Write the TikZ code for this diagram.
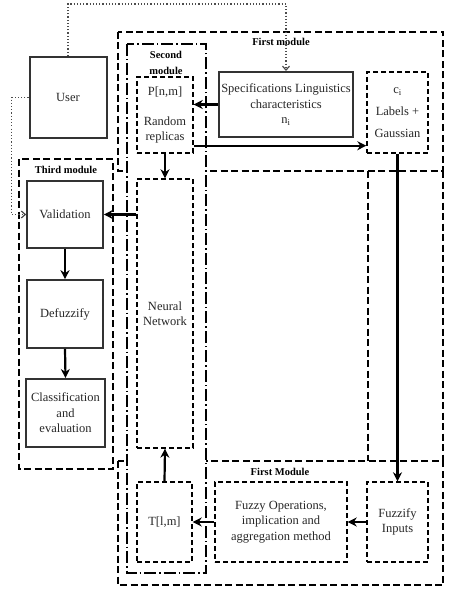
\documentclass[tikz,border=0pt]{standalone}
\usepackage{fontspec}
\setmainfont{Liberation Serif}
\usetikzlibrary{arrows.meta}

\tikzset{
    txt/.style={font=\fontsize{12.5}{15.5}\selectfont, align=center, text=black!85},
    lbl/.style={font=\fontsize{10.5}{16}\selectfont\bfseries, align=center},
    solidbox/.style={txt, draw=black!80, line width=2pt, inner sep=1pt},
    dbox/.style={txt, draw, line width=1.4pt, dash pattern=on 5pt off 3pt, inner sep=1pt},
    modbox/.style={draw, line width=2pt, dash pattern=on 7pt off 3.5pt},
    arr/.style={-{Stealth[length=9pt,width=9pt]}, line width=2.2pt},
    dotarr/.style={-{Straight Barb[length=4pt,width=7pt]}, dotted, line width=1.2pt, black!70}
}

\begin{document}
\begin{tikzpicture}[x=1pt,y=-1pt]
    \useasboundingbox (0,0) rectangle (449,591);

    % Module frames
    \draw[modbox] (118,32) rectangle (443,171);
    \draw[modbox] (443,171) -- (443,461);
    \draw[modbox] (368,171) -- (368,461);
    \draw[modbox] (118,461) rectangle (443,585);
    \draw[modbox] (19,159) rectangle (113,469);
    \draw[fill=white, line width=2pt, dash pattern=on 12pt off 3pt on 1.5pt off 3pt] (127,44) rectangle (206,573);

    % Module labels
    \node[lbl] (lfirst) at (281,42) {First module};
    \node[lbl] (lsecond) at (166,63) {Second\\module};
    \node[lbl] (lthird) at (66,170) {Third module};
    \node[lbl] (lfirstb) at (280,472) {First Module};

    % Boxes
    \node[solidbox, minimum width=77pt, minimum height=81pt] (user) at (68,97.5) {User};
    \node[solidbox, minimum width=134pt, minimum height=65pt] (spec) at (286,104.5) {Specifications Linguistics\\characteristics\\$\mathrm{n}_{\mathrm{i}}$};
    \node[dbox, minimum width=61pt, minimum height=81pt, font=\fontsize{12.5}{22}\selectfont] (ci) at (397.5,112.5) {$\mathrm{c}_{\mathrm{i}}$\\Labels +\\Gaussian};
    \node[dbox, minimum width=56pt, minimum height=76pt] (pnm) at (165,115) {P[n,m]\\[14pt]Random\\replicas};
    \node[dbox, minimum width=56pt, minimum height=269pt] (nn) at (165,313.5) {Neural\\Network};
    \node[solidbox, line width=1.6pt, minimum width=76pt, minimum height=67pt] (valid) at (65,214.5) {Validation};
    \node[solidbox, line width=1.6pt, minimum width=76pt, minimum height=68pt] (defuzz) at (65,314) {Defuzzify};
    \node[solidbox, minimum width=79pt, minimum height=68pt] (classif) at (65.5,413) {Classification\\and\\evaluation};
    \node[dbox, minimum width=61pt, minimum height=80pt] (fuzz) at (397.5,522) {Fuzzify\\Inputs};
    \node[dbox, minimum width=132pt, minimum height=80pt] (ops) at (281,522) {Fuzzy Operations,\\implication and\\aggregation method};
    \node[dbox, minimum width=55pt, minimum height=80pt] (tlm) at (164.5,522) {T[l,m]};

    % Connectors
    \draw[arr] (spec.west) -- (spec.west -| pnm.east);
    \draw[arr] ([yshift=8pt]pnm.south east) -- ([yshift=8pt]pnm.south east -| ci.west);
    \draw[arr] (pnm.south) -- (nn.north);
    \draw[arr] (nn.west |- valid.east) -- (valid.east);
    \draw[arr] (valid.south) -- (defuzz.north);
    \draw[arr] (defuzz.south) -- (classif.north);
    \draw[arr] (ci.south) -- (fuzz.north);
    \draw[arr] (fuzz.west) -- (ops.east);
    \draw[arr] (ops.west) -- (tlm.east);
    \draw[arr] (tlm.north) -- (nn.south);

    % User feedback lines
    \draw[dotarr] (user.north) -- ++(0,-52) -| (spec.north);
    \draw[dotarr] (user.west) -- ++(-17,0) |- (valid.west);
\end{tikzpicture}
\end{document}
